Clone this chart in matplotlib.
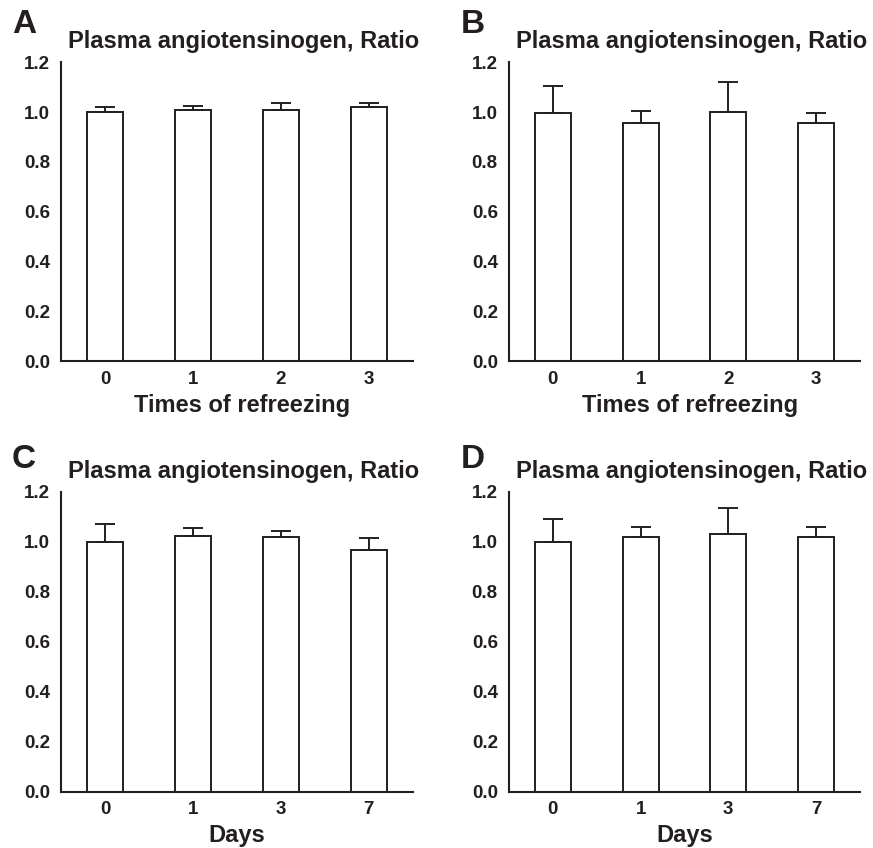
import numpy as np
import matplotlib
matplotlib.use("Agg")
import matplotlib.pyplot as plt

plt.rcParams['font.family'] = ['Liberation Sans', 'DejaVu Sans']
plt.rcParams['font.weight'] = 'bold'

# data
refreeze_labels = ["0", "1", "2", "3"]
days_labels = ["0", "1", "3", "7"]

a_vals = [1.00, 1.01, 1.008, 1.022]
a_err = [0.02, 0.014, 0.027, 0.016]
b_vals = [0.998, 0.956, 1.00, 0.956]
b_err = [0.106, 0.049, 0.12, 0.041]
c_vals = [1.00, 1.023, 1.02, 0.966]
c_err = [0.072, 0.033, 0.023, 0.05]
d_vals = [1.00, 1.018, 1.031, 1.02]
d_err = [0.092, 0.04, 0.105, 0.038]

title = "Plasma angiotensinogen, Ratio"
ink = "#231f20"

fig = plt.figure(figsize=(8.73, 8.48), dpi=100)

# axes boxes in figure fractions
boxes = [
    (0.0699, 0.574, 0.403, 0.3526),
    (0.583, 0.574, 0.402, 0.3526),
    (0.0699, 0.0664, 0.403, 0.354),
    (0.583, 0.0664, 0.402, 0.354),
]
panels = [
    ("A", a_vals, a_err, refreeze_labels, "Times of refreezing"),
    ("B", b_vals, b_err, refreeze_labels, "Times of refreezing"),
    ("C", c_vals, c_err, days_labels, "Days"),
    ("D", d_vals, d_err, days_labels, "Days"),
]
letter_pos = [(12, 9), (461, 9), (12, 444), (461, 444)]

for box, (letter, vals, err, labels, xlab), (lx, ly) in zip(boxes, panels, letter_pos):
    ax = fig.add_axes(box)
    x = np.arange(len(vals))
    ax.bar(x, vals, width=0.41, color="white", edgecolor=ink, linewidth=1.4,
           yerr=[np.zeros(len(err)), err], capsize=7,
           error_kw=dict(ecolor=ink, elinewidth=1.4, capthick=1.4))
    ax.set_xlim(-0.5, 3.5)
    ax.set_ylim(0, 1.2)
    ax.set_yticks(np.arange(0, 1.21, 0.2))
    ax.set_yticklabels(["%.1f" % v for v in np.arange(0, 1.21, 0.2)])
    ax.set_xticks(x)
    ax.set_xticklabels(labels)
    ax.tick_params(axis="both", length=0, labelsize=13.5, colors=ink)
    ax.tick_params(axis="y", pad=8)
    ax.tick_params(axis="x", pad=7)
    for s in ["top", "right"]:
        ax.spines[s].set_visible(False)
    for s in ["left", "bottom"]:
        ax.spines[s].set_linewidth(1.5)
        ax.spines[s].set_color(ink)
    ax.set_title(title, fontsize=17, fontweight="bold", color=ink, pad=10, x=0.52)
    ax.set_xlabel(xlab, fontsize=17, fontweight="bold", color=ink, labelpad=4)
    if xlab.startswith("Times"):
        ax.xaxis.set_label_coords(0.515, -0.108)
    fig.text(lx / 873, 1 - ly / 848, letter, fontsize=24, fontweight="bold",
             color=ink, ha="left", va="top")

fig.savefig("out.png", dpi=100)
